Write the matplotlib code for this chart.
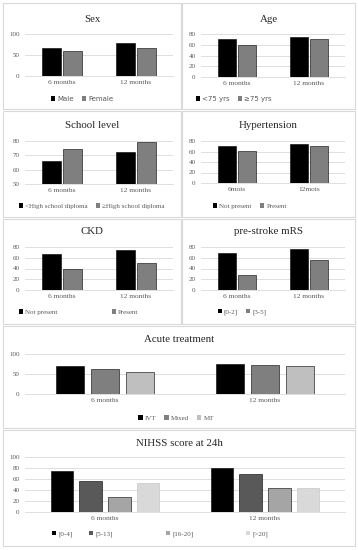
import matplotlib.pyplot as plt
from matplotlib.patches import Rectangle, Patch

plt.rcParams['font.family'] = ['Liberation Serif', 'DejaVu Serif']

W, H = 358, 550

# ---- data ----
months = ['6 months', '12 months']
months_fr = ['6mois', '12mois']

sex_labels = ['Male', 'Female']
sex_vals = [[67, 78], [60, 66]]

age_labels = ['<75 yrs', '\u226575 yrs']
age_vals = [[71, 74], [59, 71]]

school_labels = ['<High school diploma', '\u2265High school diploma']
school_vals = [[66, 72], [74.5, 79]]

hta_labels = ['Not present', 'Present']
hta_vals = [[71, 75], [61, 70]]

ckd_labels = ['Not present', 'Present']
ckd_vals = [[67, 74], [39, 51]]

mrs_labels = ['[0-2]', '[3-5]']
mrs_vals = [[69, 75.5], [28.5, 56]]

acute_labels = ['IVT', 'Mixed', 'MT']
acute_vals = [[69.5, 74.5], [63.5, 72.5], [54, 69.5]]

nihss_labels = ['[0-4]', '[5-13]', '[16-20]', '[>20]']
nihss_vals = [[74.5, 79.5], [57, 68.5], [28, 43], [52, 44]]

two_colors = ['#000000', '#7f7f7f']
three_colors = ['#000000', '#7f7f7f', '#bfbfbf']
four_colors = ['#000000', '#595959', '#a5a5a5', '#d9d9d9']

fig = plt.figure(figsize=(W / 100, H / 100), dpi=100)
fig.patch.set_facecolor('white')


def fx(x):
    return x / W


def fy(y):
    return 1 - y / H


def panel(box, axbox, title, title_y, cats, labels, vals, colors, yticks,
          width, step, leg_y, leg_x, leg_font=None):
    x0, y0, x1, y1 = box
    fig.patches.append(Rectangle((fx(x0), fy(y1)), fx(x1 - x0), (y1 - y0) / H,
                                 transform=fig.transFigure, facecolor='white',
                                 edgecolor='#d9d9d9', lw=0.8, zorder=-1))
    l, t, r, b = axbox
    ax = fig.add_axes([fx(l), fy(b), fx(r - l), (b - t) / H])
    ax.set_facecolor('none')
    n = len(vals)
    for i, (lab, v, c) in enumerate(zip(labels, vals, colors)):
        off = (i - (n - 1) / 2) * step
        ax.bar([k + off for k in range(len(cats))], v, width=width, color=c,
               edgecolor='#000000' if c != '#d9d9d9' else '#bfbfbf', lw=0.4,
               label=lab, zorder=3)
    ax.set_xlim(-0.5, len(cats) - 0.5)
    ax.set_ylim(yticks[0], yticks[-1])
    ax.set_yticks(yticks)
    ax.set_xticks(range(len(cats)))
    ax.set_xticklabels(cats)
    ax.tick_params(axis='y', length=0, labelsize=5, colors='#595959', pad=4)
    ax.tick_params(axis='x', length=0, labelsize=5.3, colors='#595959', pad=3)
    ax.grid(axis='y', color='#d9d9d9', lw=0.6, zorder=0)
    for s in ['top', 'right', 'left']:
        ax.spines[s].set_visible(False)
    ax.spines['bottom'].set_color('#d9d9d9')
    ax.spines['bottom'].set_linewidth(0.6)
    fig.text(fx((x0 + x1) / 2), fy(title_y), title, ha='center', va='center',
             fontsize=7.8, color='#262626')
    handles = [Patch(facecolor=c, edgecolor='none') for c in colors]
    prop = {'size': 5}
    if leg_font:
        prop['family'] = leg_font
    kw = dict(frameon=False, prop=prop, handlelength=0.6, handleheight=0.6,
              handletextpad=0.3, borderaxespad=0, borderpad=0)
    if isinstance(leg_x, (list, tuple)):
        # Excel spreads some legends unevenly: place each entry on its own
        legs = [fig.legend([h], [lab], loc='center left',
                           bbox_to_anchor=(fx(px), fy(leg_y)), **kw)
                for h, lab, px in zip(handles, labels, leg_x)]
    else:
        legs = [fig.legend(handles, labels, loc='center', ncol=n,
                           bbox_to_anchor=(fx(leg_x), fy(leg_y)),
                           columnspacing=1.2, **kw)]
    for leg in legs:
        for txt in leg.get_texts():
            txt.set_color('#595959')
    return ax


panel((3, 3, 181, 109), (25, 34, 173, 76), 'Sex', 20, months, sex_labels, sex_vals,
      two_colors, [0, 50, 100], 0.245, 0.285, 99, 82, leg_font='DejaVu Sans')
panel((182, 3, 355, 109), (201, 34, 345, 77), 'Age', 20, months, age_labels, age_vals,
      two_colors, [0, 20, 40, 60, 80], 0.245, 0.285, 99, 234, leg_font='DejaVu Sans')
panel((3, 111, 181, 217), (25, 141, 173, 184), 'School level', 126, months,
      school_labels, school_vals, two_colors, [50, 60, 70, 80], 0.245, 0.285,
      206, 92)
panel((182, 111, 355, 217), (201, 141, 345, 183), 'Hypertension', 126, months_fr,
      hta_labels, hta_vals, two_colors, [0, 20, 40, 60, 80], 0.245, 0.285,
      206, 250)
panel((3, 219, 181, 324), (25, 247, 173, 290), 'CKD', 232, months, ckd_labels,
      ckd_vals, two_colors, [0, 20, 40, 60, 80], 0.245, 0.285, 312, [19, 112])
panel((182, 219, 355, 324), (201, 247, 345, 290), 'pre-stroke mRS', 232, months,
      mrs_labels, mrs_vals, two_colors, [0, 20, 40, 60, 80], 0.245, 0.285,
      312, 242)
panel((3, 326, 355, 428), (25, 354, 345, 394), 'Acute treatment', 339, months,
      acute_labels, acute_vals, three_colors, [0, 50, 100], 0.175, 0.22, 418, 176)
panel((3, 430, 355, 546), (25, 457, 345, 512), 'NIHSS score at 24h', 443, months,
      nihss_labels, nihss_vals, four_colors, [0, 20, 40, 60, 80, 100], 0.14, 0.18,
      534, [52, 89, 166, 246])

fig.savefig('out.png', dpi=100)
